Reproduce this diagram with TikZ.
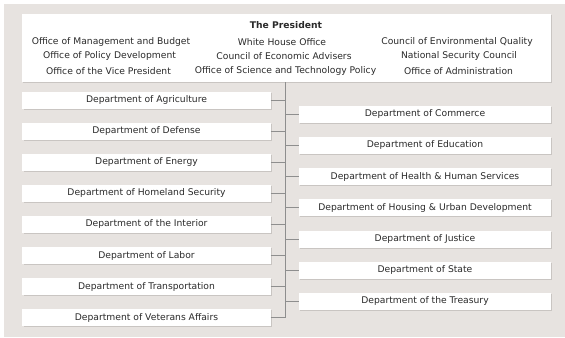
\documentclass[tikz,border=0pt]{standalone}
\usepackage{fontspec}
\setmainfont{DejaVu Sans}
\begin{document}
\begin{tikzpicture}[x=1bp,y=-1bp,
  every node/.style={inner sep=0pt, outer sep=0pt, text=txtc, font=\fontsize{9.2bp}{10bp}\selectfont},
  dept/.style={fill=white, minimum width=248bp, minimum height=17bp},
  conn/.style={draw=linec, line width=1bp}
]
\definecolor{bgc}{HTML}{E7E3E0}
\definecolor{shc}{HTML}{C9C5C2}
\definecolor{linec}{HTML}{8E8E8E}
\definecolor{txtc}{HTML}{2A2A2A}
\useasboundingbox (0,0) rectangle (565,337);
\fill[white] (0,0) rectangle (565,337);
\fill[bgc] (4,4) rectangle (565,337);
% president box
\fill[shc] (23,15) rectangle (552,83);
\node[fill=white, minimum width=529bp, minimum height=68bp, anchor=north west] (pres) at (22,14) {};
\node[font=\fontsize{9.2bp}{10bp}\selectfont\bfseries] (t) at (286,25) {The President};
\node (o11) at (111,41.8) {Office of Management and Budget};
\node (o21) at (109.5,56) {Office of Policy Development};
\node (o31) at (108.5,70.8) {Office of the Vice President};
\node (o12) at (282,41.8) {White House Office};
\node (o22) at (284,56) {Council of Economic Advisers};
\node (o32) at (285.5,70.8) {Office of Science and Technology Policy};
\node (o13) at (457,41.8) {Council of Environmental Quality};
\node (o23) at (459,56) {National Security Council};
\node (o33) at (458.5,70.8) {Office of Administration};
% trunk
\coordinate (top) at (285,82);
\coordinate (bot) at (285,317.7);
\draw[conn] (top) -- (bot);
% left departments
\foreach \name/\lab [count=\i from 0] in {
  agr/Department of Agriculture,
  def/Department of Defense,
  ene/Department of Energy,
  hom/Department of Homeland Security,
  int/Department of the Interior,
  lab/Department of Labor,
  tra/Department of Transportation,
  vet/Department of Veterans Affairs}{
  \pgfmathsetmacro{\yy}{100+31.1*\i}
  \fill[shc] (23.5,\yy-7.5) rectangle (271.5,\yy+9.5);
  \node[dept] (\name) at (146.5,\yy) {\lab};
  \coordinate (j\name) at (285,\yy);
  \draw[conn] (\name.east) -- (j\name);
}
% right departments
\foreach \name/\lab [count=\i from 0] in {
  com/Department of Commerce,
  edu/Department of Education,
  hhs/Department of Health \& Human Services,
  hud/Department of Housing \& Urban Development,
  jus/Department of Justice,
  sta/Department of State,
  tre/Department of the Treasury}{
  \pgfmathsetmacro{\yy}{114.2+31.2*\i}
  \fill[shc] (300,\yy-7.5) rectangle (552,\yy+9.5);
  \node[dept, minimum width=252bp] (\name) at (425,\yy) {\lab};
  \coordinate (k\name) at (285,\yy);
  \draw[conn] (k\name) -- (\name.west);
}
\end{tikzpicture}
\end{document}
